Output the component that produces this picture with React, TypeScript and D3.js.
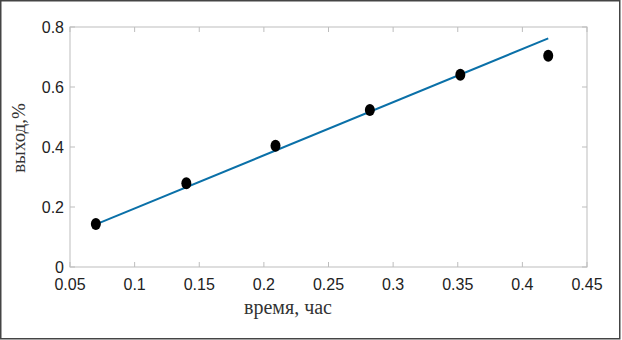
import React from "react";
import * as d3 from "d3";

const timeHours = [0.07, 0.14, 0.209, 0.282, 0.352, 0.42];
const yieldPct = [0.143, 0.279, 0.404, 0.523, 0.641, 0.704];
const fitX = [0.07, 0.42];
const fitY = [0.142, 0.762];
const xTicks = [0.05, 0.1, 0.15, 0.2, 0.25, 0.3, 0.35, 0.4, 0.45];
const xTickLabels = ["0.05", "0.1", "0.15", "0.2", "0.25", "0.3", "0.35", "0.4", "0.45"];
const yTicks = [0, 0.2, 0.4, 0.6, 0.8];
const yTickLabels = ["0", "0.2", "0.4", "0.6", "0.8"];
const xTitle = "время, час";
const yTitle = "выход,%";

const W = 622;
const H = 340;
const left = 70;
const right = 587;
const top = 27;
const bottom = 267;

export default function App() {
  const x = d3.scaleLinear().domain([0.05, 0.45]).range([left, right]);
  const y = d3.scaleLinear().domain([0, 0.8]).range([bottom, top]);
  const line = d3
    .line<number>()
    .x((_, i) => x(fitX[i]))
    .y((d) => y(d));
  const axisColor = "#bdbdbd";
  const tickLen = 5;
  const labelFont = "'Liberation Sans', Arial, sans-serif";
  const serif = "'Liberation Serif', 'Times New Roman', serif";
  return (
    <svg
      width={W}
      height={H}
      style={{ position: "fixed", left: 0, top: 0, background: "#fff" }}
    >
      <rect x={0} y={0} width={W} height={H} fill="#fff" />
      <rect x={0.75} y={0.75} width={619} height={338} fill="none" stroke="#444" strokeWidth={1.5} />
      {/* axes box */}
      <rect x={left} y={top} width={right - left} height={bottom - top} fill="none" stroke={axisColor} strokeWidth={1} />
      {xTicks.map((t, i) => (
        <g key={"xt" + i}>
          <line x1={x(t)} x2={x(t)} y1={bottom} y2={bottom - tickLen} stroke={axisColor} />
          <line x1={x(t)} x2={x(t)} y1={top} y2={top + tickLen} stroke={axisColor} />
          <text
            x={x(t)}
            y={290}
            textAnchor="middle"
            fontFamily={labelFont}
            fontSize={16}
            fill="#222"
          >
            {xTickLabels[i]}
          </text>
        </g>
      ))}
      {yTicks.map((t, i) => (
        <g key={"yt" + i}>
          <line x1={left} x2={left + tickLen} y1={y(t)} y2={y(t)} stroke={axisColor} />
          <line x1={right} x2={right - tickLen} y1={y(t)} y2={y(t)} stroke={axisColor} />
          <text
            x={64}
            y={y(t) + 6}
            textAnchor="end"
            fontFamily={labelFont}
            fontSize={16}
            fill="#222"
          >
            {yTickLabels[i]}
          </text>
        </g>
      ))}
      <path d={line(fitY) || ""} fill="none" stroke="#0a70a8" strokeWidth={2} />
      {timeHours.map((t, i) => (
        <ellipse key={"p" + i} cx={x(t)} cy={y(yieldPct[i])} rx={5} ry={6} fill="#000" />
      ))}
      <text
        x={288}
        y={314}
        textAnchor="middle"
        fontFamily={serif}
        fontSize={20}
        fill="#333"
      >
        {xTitle}
      </text>
      <text
        transform={`translate(25, 138) rotate(-90)`}
        textAnchor="middle"
        fontFamily={serif}
        fontSize={19}
        fill="#333"
      >
        {yTitle}
      </text>
    </svg>
  );
}
